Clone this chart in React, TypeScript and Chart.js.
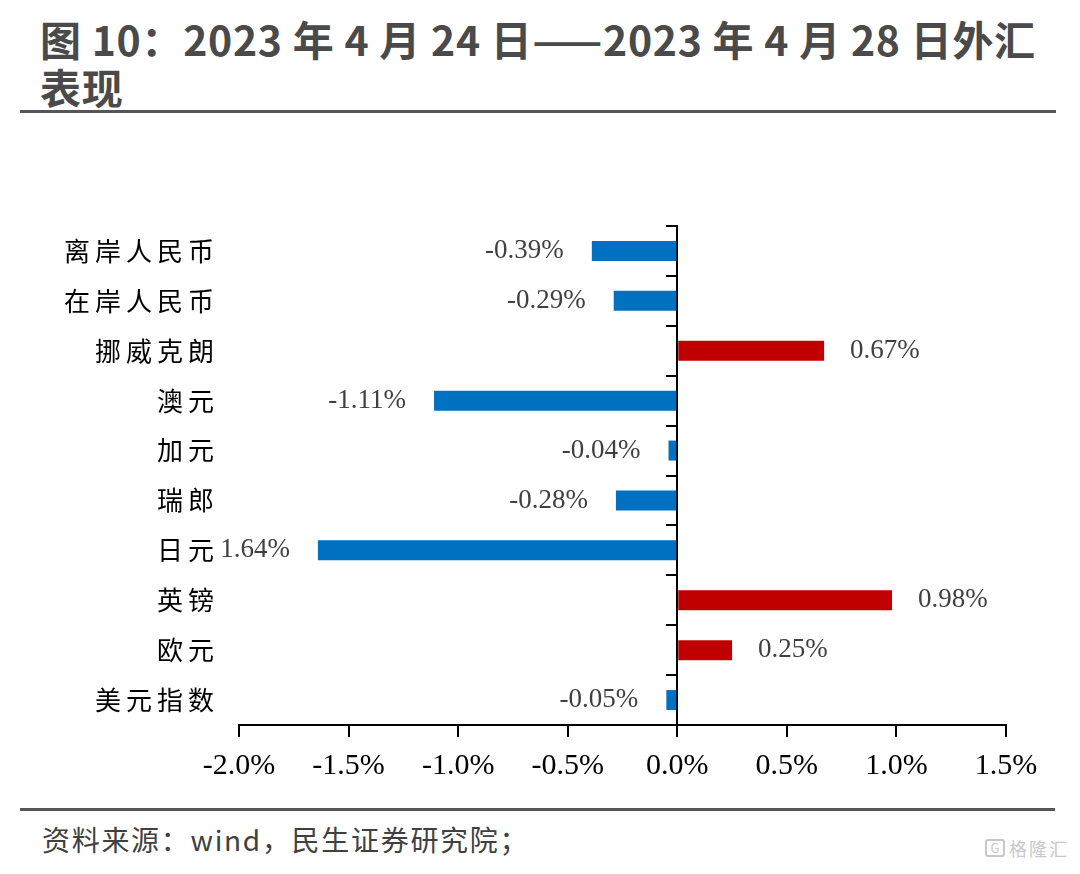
import React, { useEffect, useRef } from 'react';
import { Chart, registerables } from 'chart.js';

Chart.register(...registerables);

// ---- data ----
const categories = ['离岸人民币', '在岸人民币', '挪威克朗', '澳元', '加元', '瑞郎', '日元', '英镑', '欧元', '美元指数'];
const changes = [-0.39, -0.29, 0.67, -1.11, -0.04, -0.28, -1.64, 0.98, 0.25, -0.05];
const xMin = -2.0;
const xMax = 1.5;
const xStep = 0.5;
const titleLine1 = '图 10：2023 年 4 月 24 日——2023 年 4 月 28 日外汇';
const titleLine2 = '表现';
const sourceText = '资料来源：wind，民生证券研究院；';
const watermarkText = '格隆汇';

const POS_COLOR = '#C00000';
const NEG_COLOR = '#0070C0';
const SERIF = '"Liberation Serif", "Times New Roman", serif';
const CJK = '"Noto Sans CJK SC", "Noto Sans", sans-serif';

const fmtLabel = (v: number) => v.toFixed(2) + '%';

const dataLabelPlugin = {
  id: 'dataLabels',
  afterDatasetsDraw(chart: any) {
    const ctx = chart.ctx;
    const meta = chart.getDatasetMeta(0);
    const yScale = chart.scales.y;
    ctx.save();
    // value labels are hidden where they run under the category labels
    const clipLeft = yScale.right - 18;
    ctx.beginPath();
    ctx.rect(clipLeft, 0, chart.width - clipLeft, chart.height);
    ctx.clip();
    ctx.font = `27px ${SERIF}`;
    ctx.fillStyle = '#404040';
    ctx.textBaseline = 'middle';
    meta.data.forEach((el: any, i: number) => {
      const v = changes[i];
      const { x, y } = el.getProps(['x', 'y'], true);
      if (v >= 0) {
        ctx.textAlign = 'left';
        ctx.fillText(fmtLabel(v), x + 26, y);
      } else {
        ctx.textAlign = 'right';
        ctx.fillText(fmtLabel(v), x - 28, y);
      }
    });
    ctx.restore();
  },
};

const letterSpacingPlugin = {
  id: 'catLetterSpacing',
  afterLayout(chart: any) {
    const s: any = chart.scales.y;
    if (s && !s.__ls) {
      const orig = s.drawLabels;
      s.drawLabels = function (area: any) {
        const ctx = this.ctx;
        const prev = ctx.letterSpacing;
        ctx.letterSpacing = '5px';
        orig.call(this, area);
        ctx.letterSpacing = prev || '0px';
      };
      s.__ls = true;
    }
  },
};

function BarChart() {
  const ref = useRef<HTMLCanvasElement | null>(null);
  useEffect(() => {
    if (!ref.current) return;
    const chart = new Chart(ref.current, {
      type: 'bar',
      data: {
        labels: categories,
        datasets: [
          {
            data: changes,
            backgroundColor: changes.map((v) => (v >= 0 ? POS_COLOR : NEG_COLOR)),
            borderWidth: 0,
            barPercentage: 0.4,
            categoryPercentage: 1.0,
          },
        ],
      },
      options: {
        responsive: false,
        animation: false,
        indexAxis: 'y',
        devicePixelRatio: 1,
        layout: { padding: { top: 46, right: 74, left: 0, bottom: 0 } },
        plugins: { legend: { display: false }, tooltip: { enabled: false } },
        scales: {
          x: {
            type: 'linear',
            position: 'bottom',
            min: xMin,
            max: xMax,
            ticks: {
              stepSize: xStep,
              callback: (v: any) => Number(v).toFixed(1) + '%',
              color: '#000',
              font: { family: SERIF, size: 30 },
              padding: 11,
              autoSkip: false,
              maxRotation: 0,
            },
            grid: {
              display: true,
              drawOnChartArea: false,
              drawTicks: true,
              tickLength: 12,
              color: '#000',
              lineWidth: 2,
            },
            border: { display: true, color: '#000', width: 2 },
            afterFit: (s: any) => {
              s.height = 75;
            },
          },
          y: {
            type: 'category',
            position: 'left',
            offset: true,
            grid: { display: false },
            border: { display: false },
            ticks: {
              color: '#000',
              font: { family: CJK, size: 26 },
              padding: 12,
              autoSkip: false,
            },
            afterFit: (s: any) => {
              s.width = 239;
            },
          },
          y2: {
            axis: 'y',
            type: 'category',
            position: { x: 0 },
            offset: true,
            grid: {
              display: true,
              offset: true,
              drawOnChartArea: false,
              drawTicks: true,
              tickLength: 10,
              color: '#000',
              lineWidth: 2,
            },
            border: { display: true, color: '#000', width: 2 },
            ticks: { display: false },
          },
        },
      } as any,
      plugins: [dataLabelPlugin, letterSpacingPlugin],
    });
    return () => chart.destroy();
  }, []);
  return <canvas ref={ref} width={1080} height={620} style={{ display: 'block', width: 1080, height: 620 }} />;
}

export default function App() {
  return (
    <div
      style={{
        position: 'absolute',
        left: 0,
        top: 0,
        width: 1080,
        height: 874,
        background: '#fff',
        fontFamily: CJK,
        overflow: 'hidden',
      }}
    >
      <div
        style={{
          position: 'absolute',
          left: 40,
          top: 14,
          fontSize: 41,
          fontWeight: 700,
          lineHeight: '48px',
          letterSpacing: 0.7,
          color: '#4a4a4a',
          whiteSpace: 'nowrap',
        }}
      >
        {titleLine1}
        <br />
        {titleLine2}
      </div>
      <div style={{ position: 'absolute', left: 20, top: 110, width: 1036, height: 3, background: '#555' }} />
      <div style={{ position: 'absolute', left: 0, top: 180, width: 1080, height: 620 }}>
        <BarChart />
      </div>
      <div style={{ position: 'absolute', left: 20, top: 808, width: 1035, height: 3, background: '#555' }} />
      <div
        style={{
          position: 'absolute',
          left: 42,
          top: 823,
          fontSize: 28,
          lineHeight: '32px',
          letterSpacing: 1.7,
          color: '#404040',
          whiteSpace: 'nowrap',
        }}
      >
        {sourceText}
      </div>
      <div
        style={{
          position: 'absolute',
          left: 985,
          top: 838,
          fontSize: 18,
          lineHeight: '20px',
          color: '#c8c8c8',
          whiteSpace: 'nowrap',
          display: 'flex',
          alignItems: 'center',
          gap: 4,
        }}
      >
        <span
          style={{
            display: 'inline-block',
            width: 20,
            height: 18,
            border: '2px solid #c8c8c8',
            borderRadius: 3,
            fontSize: 13,
            lineHeight: '14px',
            textAlign: 'center',
            boxSizing: 'border-box',
          }}
        >
          G
        </span>
        <span style={{ letterSpacing: 2 }}>{watermarkText}</span>
      </div>
    </div>
  );
}
